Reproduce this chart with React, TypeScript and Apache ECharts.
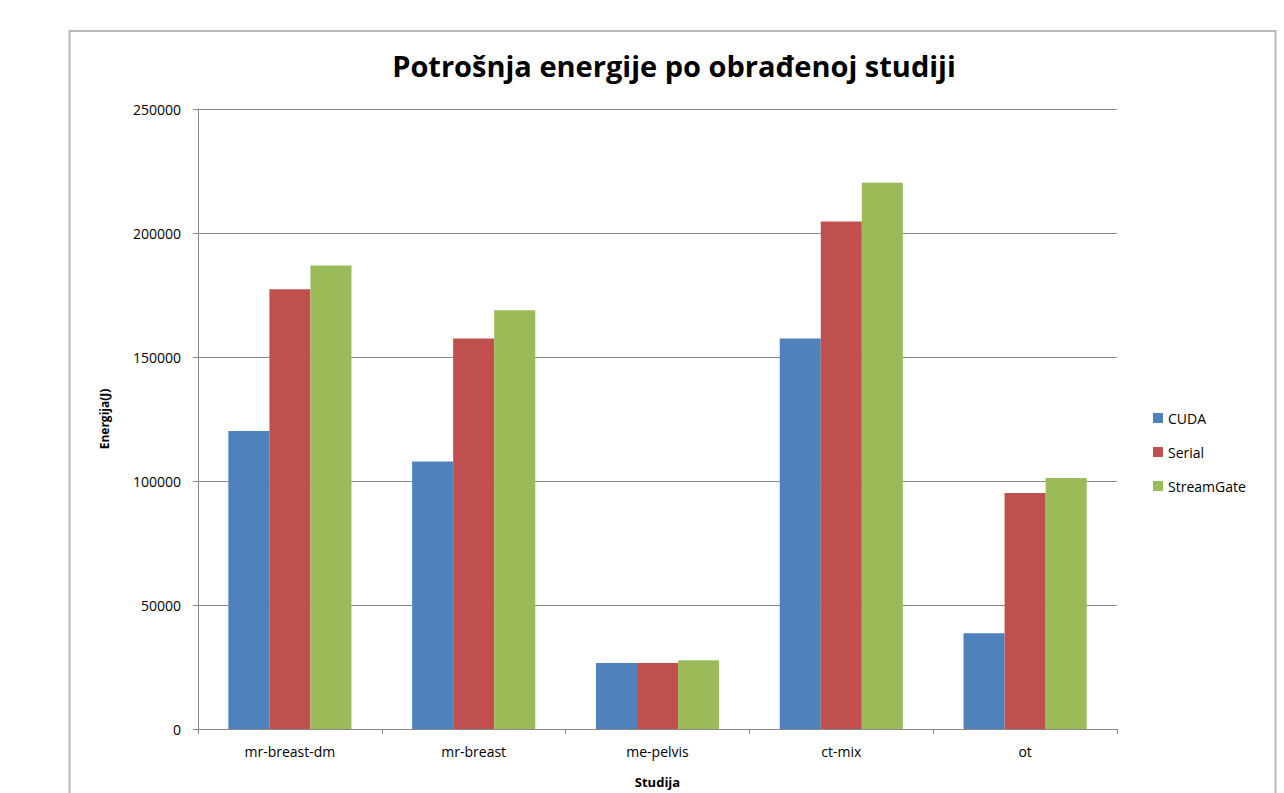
import React, { useEffect, useRef } from "react";
import * as echarts from "echarts";

const categories = ["mr-breast-dm", "mr-breast", "me-pelvis", "ct-mix", "ot"];
const cudaValues = [120200, 107900, 26600, 157500, 38600];
const serialValues = [177300, 157500, 26600, 204600, 95200];
const streamGateValues = [186900, 168900, 27700, 220300, 101200];
const seriesNames = ["CUDA", "Serial", "StreamGate"];
const colors = ["#4F81BD", "#C0504D", "#9BBB59"];

export default function App() {
  const ref = useRef<HTMLDivElement>(null);
  useEffect(() => {
    const chart = echarts.init(ref.current!, null, { renderer: "svg" });
    const font = "'Open Sans', 'Liberation Sans', sans-serif";
    const values = [cudaValues, serialValues, streamGateValues];
    chart.setOption({
      animation: false,
      backgroundColor: "#ffffff",
      textStyle: { fontFamily: font },
      title: {
        text: "Potrošnja energije po obrađenoj studiji",
        left: 669,
        top: 46,
        textAlign: "center",
        textStyle: { fontFamily: font, fontSize: 29, fontWeight: "bold", color: "#000" },
      },
      graphic: [
        {
          type: "rect",
          shape: { x: 69.5, y: 31, width: 1206, height: 820 },
          style: { fill: "none", stroke: "#b8b8b8", lineWidth: 2 },
          silent: true,
        },
      ],
      legend: {
        orient: "vertical",
        left: 1148,
        top: 406,
        itemWidth: 10,
        itemHeight: 10,
        itemGap: 20,
        icon: "rect",
        textStyle: { fontFamily: font, fontSize: 14, color: "#000" },
        data: seriesNames,
      },
      grid: { left: 198, right: 167, top: 109, bottom: 62.5 },
      xAxis: {
        type: "category",
        data: categories,
        name: "Studija",
        nameLocation: "middle",
        nameGap: 46,
        nameTextStyle: { fontFamily: font, fontSize: 13, fontWeight: "bold", color: "#000" },
        axisLine: { lineStyle: { color: "#888", width: 1 } },
        axisTick: { show: true, length: 5, lineStyle: { color: "#888" } },
        axisLabel: { fontFamily: font, fontSize: 14, color: "#000", margin: 15 },
      },
      yAxis: {
        type: "value",
        min: 0,
        max: 250000,
        interval: 50000,
        name: "Energija(J)",
        nameLocation: "middle",
        nameGap: 88,
        nameTextStyle: { fontFamily: font, fontSize: 12, fontWeight: "bold", color: "#000" },
        axisLine: { show: true, lineStyle: { color: "#888", width: 1 } },
        axisTick: { show: true, length: 5, lineStyle: { color: "#888" } },
        axisLabel: {
          fontFamily: font,
          fontSize: 14,
          color: "#000",
          margin: 17,
          formatter: (v: number) => String(v),
        },
        splitLine: { lineStyle: { color: "#8c8c8c", width: 1 } },
      },
      series: seriesNames.map((name, i) => ({
        name,
        type: "bar",
        data: values[i],
        barGap: "0%",
        barCategoryGap: "33%",
        itemStyle: { color: colors[i] },
      })),
    });
    return () => chart.dispose();
  }, []);
  return (
    <div
      ref={ref}
      style={{ position: "fixed", left: 0, top: 0, width: 1284, height: 793 }}
    />
  );
}
